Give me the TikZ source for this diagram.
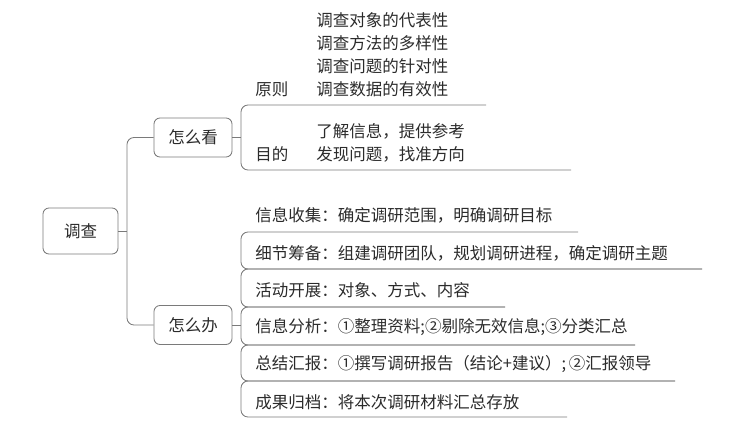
\documentclass[tikz,border=0pt]{standalone}
\usepackage{fontspec}
\setmainfont{Noto Sans CJK SC}
\definecolor{txt}{HTML}{2B2B2B}
\definecolor{ln}{HTML}{7A7A7A}

\tikzset{
  box/.style={draw=ln, rounded corners=6pt, minimum width=78pt, minimum height=39pt, inner sep=2pt},
  item/.style={anchor=west, inner sep=0pt},
  link/.style={draw=ln, rounded corners=7pt}
}

\begin{document}
\begin{tikzpicture}[x=1pt, y=-1pt, font=\fontsize{16.5}{18}\selectfont, text=txt, line width=0.85pt]
    \useasboundingbox (0,0) rectangle (738,429);

    % main boxes
    \node[box, minimum width=75pt, minimum height=46pt] (diaocha) at (80.5,231) {调查};
    \node[box] (zmk) at (193,137.5) {怎么看};
    \node[box] (zmb) at (193,325) {怎么办};

    \coordinate (rs) at (127,231);
    \coordinate (spine) at (241,0);

    \draw[ln] (diaocha.east) -- (rs);
    \draw[link] (zmk.west) -| (rs) |- (zmb.west);

    % 怎么看
    \node[item] (yz1) at (316,20) {调查对象的代表性};
    \node[item] (yz2) at (316,43) {调查方法的多样性};
    \node[item] (yz3) at (316,66) {调查问题的针对性};
    \node[item] (yz4) at (316,89) {调查数据的有效性};
    \node[item] (yzl) at (255,89) {原则};
    \node[item] (md1) at (316,131) {了解信息，提供参考};
    \node[item] (md2) at (316,154) {发现问题，找准方向};
    \node[item] (mdl) at (255,154) {目的};

    \coordinate (p1) at (486,105);
    \coordinate (p2) at (571,170);
    \draw[ln] (zmk.east) -- (zmk.east -| spine);
    \draw[link] (p1) -- (p1 -| spine) -- (p2 -| spine) -- (p2);

    % 怎么办
    \node[item] (zb1) at (255,215) {信息收集：确定调研范围，明确调研目标};
    \node[item] (zb2) at (255,253) {细节筹备：组建调研团队，规划调研进程，确定调研主题};
    \node[item] (zb3) at (255,290) {活动开展：对象、方式、内容};
    \node[item] (zb4) at (255,327) {信息分析：①整理资料;②剔除无效信息;③分类汇总};
    \node[item] (zb5) at (255,364) {总结汇报：①撰写调研报告（结论+建议）;\,②汇报领导};
    \node[item] (zb6) at (255,402) {成果归档：将本次调研材料汇总存放};

    \coordinate (u1) at (578,232);
    \coordinate (u2) at (702,269);
    \coordinate (u3) at (505,307);
    \coordinate (u4) at (635,345);
    \coordinate (u5) at (675,381);
    \coordinate (u6) at (567,417);
    \draw[ln] (zmb.east) -- (zmb.east -| spine);
    \foreach \a/\b in {u1/u2, u2/u3, u3/u4, u4/u5, u5/u6}
        \draw[link] (\a) -- (\a -| spine) -- (\b -| spine) -- (\b);
\end{tikzpicture}
\end{document}
